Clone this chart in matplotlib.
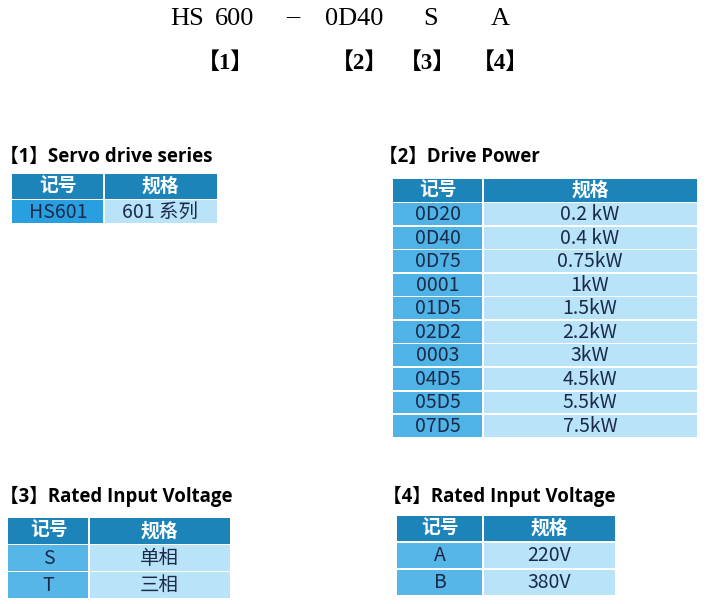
import matplotlib
matplotlib.use("Agg")
import matplotlib.pyplot as plt
from matplotlib.patches import Rectangle

# ---- data ----
model_parts = ["HS", "600", "–", "0D40", "S", "A"]
part_labels = ["【1】", "【2】", "【3】", "【4】"]

head_code = "记号"
head_spec = "规格"

series_title = "【1】Servo drive series"
series_codes = ["HS601"]
series_specs = ["601 系列"]

power_title = "【2】Drive Power"
power_codes = ["0D20", "0D40", "0D75", "0001", "01D5", "02D2", "0003", "04D5", "05D5", "07D5"]
power_specs = ["0.2 kW", "0.4 kW", "0.75kW", "1kW", "1.5kW", "2.2kW", "3kW", "4.5kW", "5.5kW", "7.5kW"]

phase_title = "【3】Rated Input Voltage"
phase_codes = ["S", "T"]
phase_specs = ["单相", "三相"]

volt_title = "【4】Rated Input Voltage"
volt_codes = ["A", "B"]
volt_specs = ["220V", "380V"]

# ---- style ----
HEAD = "#1d84b9"
LIGHT = "#b9e3f8"
TXT = "#1a2a4a"
CJK = "Noto Sans CJK SC"
SERIF = ["Liberation Serif", CJK]
TITLE = ["Open Sans", CJK]

fig = plt.figure(figsize=(7.07, 6.04), dpi=100)
ax = fig.add_axes([0, 0, 1, 1])
ax.set_xlim(0, 707)
ax.set_ylim(604, 0)
ax.axis("off")


def draw_table(x0, xs, x1, ytop, head_h, step, codes, specs, col1):
    gap = 1.6
    ax.add_patch(Rectangle((x0, ytop), xs - x0 - gap / 2, head_h, color=HEAD, lw=0))
    ax.add_patch(Rectangle((xs + gap / 2, ytop), x1 - xs - gap / 2, head_h, color=HEAD, lw=0))
    ax.text((x0 + xs) / 2, ytop + head_h / 2, head_code, color="white", fontsize=13.5,
            fontweight="bold", family=CJK, ha="center", va="center")
    ax.text((xs + x1) / 2, ytop + head_h / 2, head_spec, color="white", fontsize=13.5,
            fontweight="bold", family=CJK, ha="center", va="center")
    y = ytop + head_h + gap
    for c, s in zip(codes, specs):
        h = step - gap
        ax.add_patch(Rectangle((x0, y), xs - x0 - gap / 2, h, color=col1, lw=0))
        ax.add_patch(Rectangle((xs + gap / 2, y), x1 - xs - gap / 2, h, color=LIGHT, lw=0))
        ax.text((x0 + xs) / 2, y + h / 2 + 0.5, c, color=TXT, fontsize=14,
                fontweight="light", family=CJK, ha="center", va="center")
        ax.text((xs + x1) / 2, y + h / 2 + 0.5, s, color=TXT, fontsize=14,
                fontweight="light", family=CJK, ha="center", va="center")
        y += step


# top model string
part_x = [187, 235, 293, 354, 431, 500]
part_y = [19, 19, 16, 19, 19, 19]
for px, py, t in zip(part_x, part_y, model_parts):
    ax.text(px, py, t, fontsize=19, family=SERIF, color="black", ha="center", va="center")
label_x = [225, 360, 427, 500]
for lx, t in zip(label_x, part_labels):
    ax.text(lx, 63, t, fontsize=16.5, family=SERIF, fontweight="bold", color="black",
            ha="center", va="center")

# section titles
ax.text(0, 157, series_title, fontsize=13.4, fontweight="bold", family=TITLE, va="center")
ax.text(379, 157, power_title, fontsize=13.4, fontweight="bold", family=TITLE, va="center")
ax.text(0, 496, phase_title, fontsize=13.4, fontweight="bold", family=TITLE, va="center")
ax.text(383, 496, volt_title, fontsize=13.4, fontweight="bold", family=TITLE, va="center")

draw_table(12, 104, 217, 174, 24.5, 24.5, series_codes, series_specs, "#2a9fdf")
draw_table(393, 483, 697, 178.5, 23, 23.55, power_codes, power_specs, "#4fb3e6")
draw_table(8, 89, 230, 518, 25.5, 27, phase_codes, phase_specs, "#55b6e7")
draw_table(397, 483, 615, 515.5, 25.5, 27, volt_codes, volt_specs, "#55b6e7")

fig.savefig("out.png", dpi=100)
